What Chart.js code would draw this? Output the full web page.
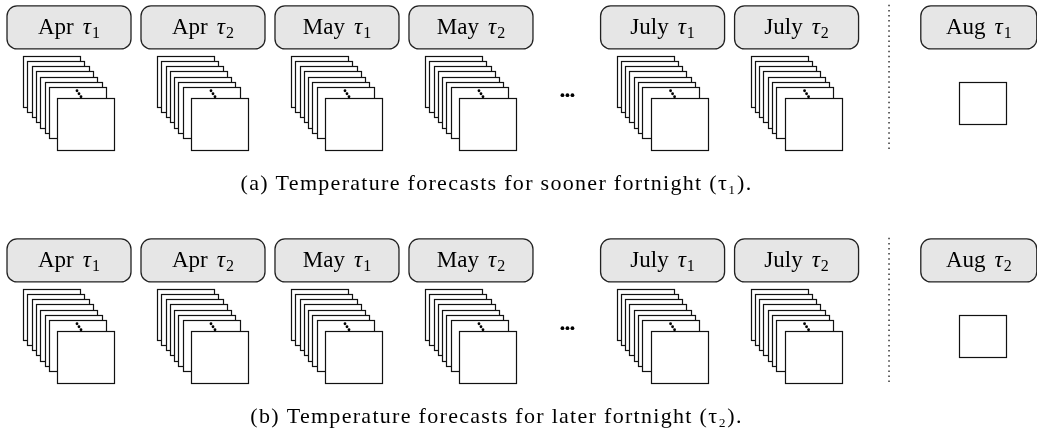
<!DOCTYPE html>
<html>
<head>
<meta charset="utf-8">
<script src="https://cdn.jsdelivr.net/npm/chart.js@4.4.1/dist/chart.umd.min.js"></script>
<style>
  body { margin: 0; background: #fff; }
  .panel { position: absolute; left: 0; width: 1037px; }
  #panelA { top: 0; height: 210px; }
  #panelB { top: 233px; height: 204px; }
</style>
</head>
<body>
<div class="panel" id="panelA"><canvas id="chartA"></canvas></div>
<div class="panel" id="panelB"><canvas id="chartB"></canvas></div>
<script>
'use strict'

/* data */
const months = ['Apr', 'Apr', 'May', 'May', 'July', 'July'];
const fortnights = ['1', '2', '1', '2', '1', '2'];
const slotPos = [0, 1, 2, 3, 4.43, 5.43];     // input slots on the x scale
const gapPos = 3.72;                          // the "..." between May and July
const dividerPos = 6.12;                      // dotted line before the target
const targetMonth = 'Aug';
const targetPos = 6.79;
const targetFortnight = ['1', '2'];
const captions = [
  '(a) Temperature forecasts for sooner fortnight (\u03c4\u2081).',
  '(b) Temperature forecasts for later fortnight (\u03c4\u2082).'
];
const framesPerInput = 8;

const SERIF = '"Liberation Serif", "Times New Roman", serif';

/* label box: "Apr τ1" */
function drawLabel(ctx, cx, cy, month, sub, w) {
  const h = 43;
  ctx.save();
  ctx.beginPath();
  ctx.roundRect(cx - w / 2, cy - h / 2, w, h, 10);
  ctx.fillStyle = '#e6e6e6';
  ctx.fill();
  ctx.lineWidth = 1.3;
  ctx.strokeStyle = '#222';
  ctx.stroke();

  const f1 = '23px ' + SERIF, f2 = 'italic 23px ' + SERIF, f3 = '16px ' + SERIF;
  ctx.font = f1; const w1 = ctx.measureText(month).width + 9;
  ctx.font = f2; const w2 = ctx.measureText('\u03c4').width + 1;
  ctx.font = f3; const w3 = ctx.measureText(sub).width;
  let x = cx - (w1 + w2 + w3) / 2;
  const base = cy + 7;
  ctx.fillStyle = '#000';
  ctx.textBaseline = 'alphabetic';
  ctx.font = f1; ctx.fillText(month, x, base); x += w1;
  ctx.font = f2; ctx.fillText('\u03c4', x, base); x += w2;
  ctx.font = f3; ctx.fillText(sub, x, base + 4);
  ctx.restore();
}

/* stack of forecast frames */
function drawStack(ctx, cx, cy) {
  const w = 57, h = 51;
  ctx.save();
  ctx.lineWidth = 1.2;
  ctx.strokeStyle = '#111';
  ctx.fillStyle = '#fff';
  for (let i = 0; i < framesPerInput - 1; i++) {
    const x = Math.round(cx - 46 + 4.3 * i) + 0.5;
    const y = Math.round(cy - 47 + 5.2 * i) + 0.5;
    ctx.fillRect(x, y, w, h);
    ctx.strokeRect(x, y, w, h);
  }
  const fx = Math.round(cx - 12) + 0.5, fy = Math.round(cy - 5) + 0.5;
  ctx.fillRect(fx, fy, w, h + 1);
  ctx.strokeRect(fx, fy, w, h + 1);
  // diagonal dots
  ctx.fillStyle = '#000';
  [[8, -12], [10, -9], [12, -6]].forEach(function(d){
    ctx.beginPath();
    ctx.arc(cx + d[0], cy + d[1], 1.4, 0, Math.PI * 2);
    ctx.fill();
  });
  ctx.restore();
}

function drawTarget(ctx, cx, cy) {
  ctx.save();
  ctx.lineWidth = 1.2;
  ctx.strokeStyle = '#111';
  ctx.strokeRect(Math.round(cx - 20) + 0.5, Math.round(cy - 21) + 0.5, 47, 42);
  ctx.restore();
}

function drawGap(ctx, cx, cy) {
  ctx.save();
  ctx.fillStyle = '#000';
  for (let i = -1; i <= 1; i++) {
    ctx.beginPath();
    ctx.arc(cx + i * 5, cy, 1.9, 0, Math.PI * 2);
    ctx.fill();
  }
  ctx.restore();
}

const diagramPlugin = {
  id: 'diagram',
  beforeDraw(chart) {
    chart.ctx.letterSpacing = '1.3px';   // caption (title) is wider in the original
  },
  beforeDatasetsDraw(chart) {
    chart.ctx.letterSpacing = '0px';
  },
  afterDatasetsDraw(chart) {
    const ctx = chart.ctx;
    const sub = chart.options.plugins.diagram.target;
    const labels = chart.getDatasetMeta(0).data;
    const stacks = chart.getDatasetMeta(1).data;
    labels.forEach(function(p, i){ drawLabel(ctx, p.x, p.y, months[i], fortnights[i], 124); });
    stacks.forEach(function(p){ drawStack(ctx, p.x, p.y); });
    const t = chart.getDatasetMeta(2).data;
    drawLabel(ctx, t[0].x, t[0].y, targetMonth, sub, 116);
    drawTarget(ctx, t[1].x, t[1].y);
    const g = chart.getDatasetMeta(3).data[0];
    drawGap(ctx, g.x, g.y);
  }
};

function makePanel(id, k) {
  const ctx = document.getElementById(id).getContext('2d');
  return new Chart(ctx, {
    type: 'scatter',
    data: {
      datasets: [
        { label: 'inputs', data: slotPos.map(function(x){ return { x: x, y: 0 }; }), pointRadius: 0 },
        { label: 'frames', data: slotPos.map(function(x){ return { x: x, y: 1 }; }), pointRadius: 0 },
        { label: 'target', data: [{ x: targetPos, y: 0 }, { x: targetPos, y: 1 }], pointRadius: 0 },
        { label: 'gap', data: [{ x: gapPos, y: 0.9 }], pointRadius: 0 },
        { label: 'divider', data: [{ x: dividerPos, y: -0.3 }, { x: dividerPos, y: 1.62 }],
          showLine: true, pointRadius: 0, borderColor: '#333', borderWidth: 1.5, borderDash: [1.5, 3.6] }
      ]
    },
    options: {
      responsive: true,
      maintainAspectRatio: false,
      animation: false,
      events: [],
      layout: { padding: { left: 0, right: 44, top: 0, bottom: 0 } },
      scales: {
        x: { type: 'linear', min: -0.515, max: 6.896, display: false },
        y: { type: 'linear', min: -0.364, max: 1.755, reverse: true, display: false }
      },
      plugins: {
        legend: { display: false },
        tooltip: { enabled: false },
        title: {
          display: true,
          position: 'bottom',
          text: captions[k],
          color: '#000',
          font: { family: SERIF, size: 22, weight: 'normal' },
          padding: { top: 11, bottom: k === 0 ? 13 : 7 }
        },
        diagram: { target: targetFortnight[k] }
      }
    },
    plugins: [diagramPlugin]
  });
}

makePanel('chartA', 0);
makePanel('chartB', 1);
</script>
</body>
</html>
